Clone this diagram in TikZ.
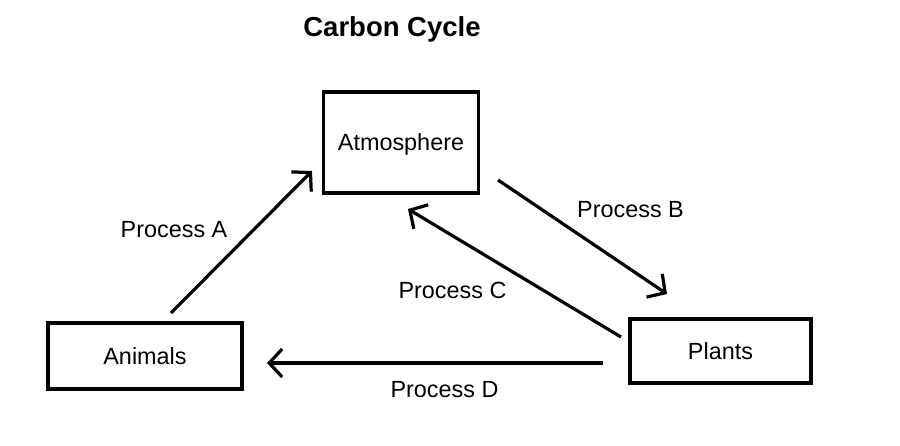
\documentclass[tikz,border=0pt]{standalone}
\usepackage{fontspec}
\setmainfont{Liberation Sans}
\usetikzlibrary{arrows.meta}
\tikzset{
  box/.style={draw=black, line width=3.2pt, inner sep=0pt, text height=16.8pt, text depth=0pt, font=\fontsize{23.4}{28}\selectfont},
  lbl/.style={anchor=base, inner sep=0pt, font=\fontsize{23.4}{28}\selectfont},
  flow/.style={draw=black, line width=3.2pt, -{Straight Barb[length=13pt,width=28pt]}}
}
\begin{document}
\begin{tikzpicture}[x=1pt,y=-1pt]
\useasboundingbox (0,0) rectangle (900,446);
\fill[white] (0,0) rectangle (900,446);
\node[anchor=base, inner sep=0pt, font=\fontsize{27.5}{32}\bfseries\selectfont] (title) at (392,37) {Carbon Cycle};
\node[box, minimum width=155pt, minimum height=101pt] (atm) at (401,142.5) {Atmosphere};
\node[box, minimum width=194pt, minimum height=66pt] (anim) at (145,356) {Animals};
\node[box, minimum width=181pt, minimum height=64pt] (plant) at (720.5,351) {Plants};
\coordinate (a1) at (171,313); \coordinate (a2) at (312,171);
\coordinate (b1) at (498,180); \coordinate (b2) at (667,294);
\coordinate (c1) at (621,337); \coordinate (c2) at (408,209);
\coordinate (d1) at (603,363); \coordinate (d2) at (267,363);
\draw[flow] (a1) -- (a2);
\draw[flow] (b1) -- (b2);
\draw[flow] (c1) -- (c2);
\draw[flow] (d1) -- (d2);
\node[lbl] (la) at (174,238) {Process A};
\node[lbl] (lb) at (630.5,218) {Process B};
\node[lbl] (lc) at (452.5,299) {Process C};
\node[lbl] (ld) at (444.5,398) {Process D};
\end{tikzpicture}
\end{document}
